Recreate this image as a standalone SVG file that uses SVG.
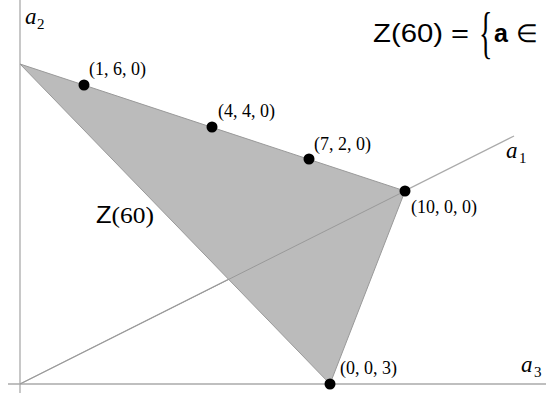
<svg xmlns="http://www.w3.org/2000/svg" width="546" height="393" viewBox="0 0 546 393">
<style>
.axis{stroke:#aaaaaa;stroke-width:1.3;fill:none}
.pt{fill:#000}
.lbl{font-family:"Liberation Serif",serif;font-size:18px;fill:#000}
.ax{font-family:"Liberation Serif",serif;font-style:italic;font-size:23px;fill:#000}
.sub{font-family:"Liberation Serif",serif;font-style:normal;font-size:15px;fill:#000}
.sans{font-family:"Liberation Sans",sans-serif;fill:#000}
</style>
<rect width="546" height="393" fill="#fff"/>
<g id="axes">
<line class="axis" x1="20" y1="0" x2="20" y2="393"/>
<line class="axis" x1="8" y1="384" x2="546" y2="384"/>
<line class="axis" x1="20" y1="384" x2="514" y2="136"/>
</g>
<g id="region">
<polygon points="20,64 405,191 330,384" fill="#bbbbbb" stroke="#999999" stroke-width="1"/>
<line x1="20" y1="384" x2="405" y2="191" stroke="#999999" stroke-width="1"/>
</g>
<g id="labels-axes">
<text class="ax" x="25" y="24">a</text><text class="sub" x="37" y="29">2</text>
<text class="ax" x="506" y="158">a</text><text class="sub" x="519" y="163">1</text>
<text class="ax" x="521" y="372">a</text><text class="sub" x="534" y="377">3</text>
</g>
<g id="p160"><circle class="pt" cx="84" cy="85" r="5.5"/><text class="lbl" x="89" y="75">(1, 6, 0)</text></g>
<g id="p440"><circle class="pt" cx="212" cy="127" r="5.5"/><text class="lbl" x="218" y="117">(4, 4, 0)</text></g>
<g id="p720"><circle class="pt" cx="309" cy="159" r="5.5"/><text class="lbl" x="314" y="150">(7, 2, 0)</text></g>
<g id="p1000"><circle class="pt" cx="405" cy="191" r="5.5"/><text class="lbl" x="411" y="213">(10, 0, 0)</text></g>
<g id="p003"><circle class="pt" cx="330" cy="384" r="5.5"/><text class="lbl" x="340" y="374">(0, 0, 3)</text></g>
<g id="zlabel"><text x="96" y="223" font-size="24" textLength="58" lengthAdjust="spacingAndGlyphs"><tspan class="sans">Z</tspan><tspan font-family="Liberation Serif,serif">(60)</tspan></text></g>
<g id="title">
<text class="sans" x="373" y="42" font-size="25" textLength="70" lengthAdjust="spacingAndGlyphs">Z(60)</text>
<text class="sans" x="451" y="42" font-size="25" textLength="18" lengthAdjust="spacingAndGlyphs">=</text>
<text transform="translate(479,52) scale(0.5,1)" x="0" y="0" font-size="56" font-family="Liberation Serif,serif">{</text>
<text class="sans" x="494" y="42" font-size="25" font-weight="bold">a</text>
<text class="sans" x="516" y="42" font-size="25">∈</text>
</g>
</svg>
